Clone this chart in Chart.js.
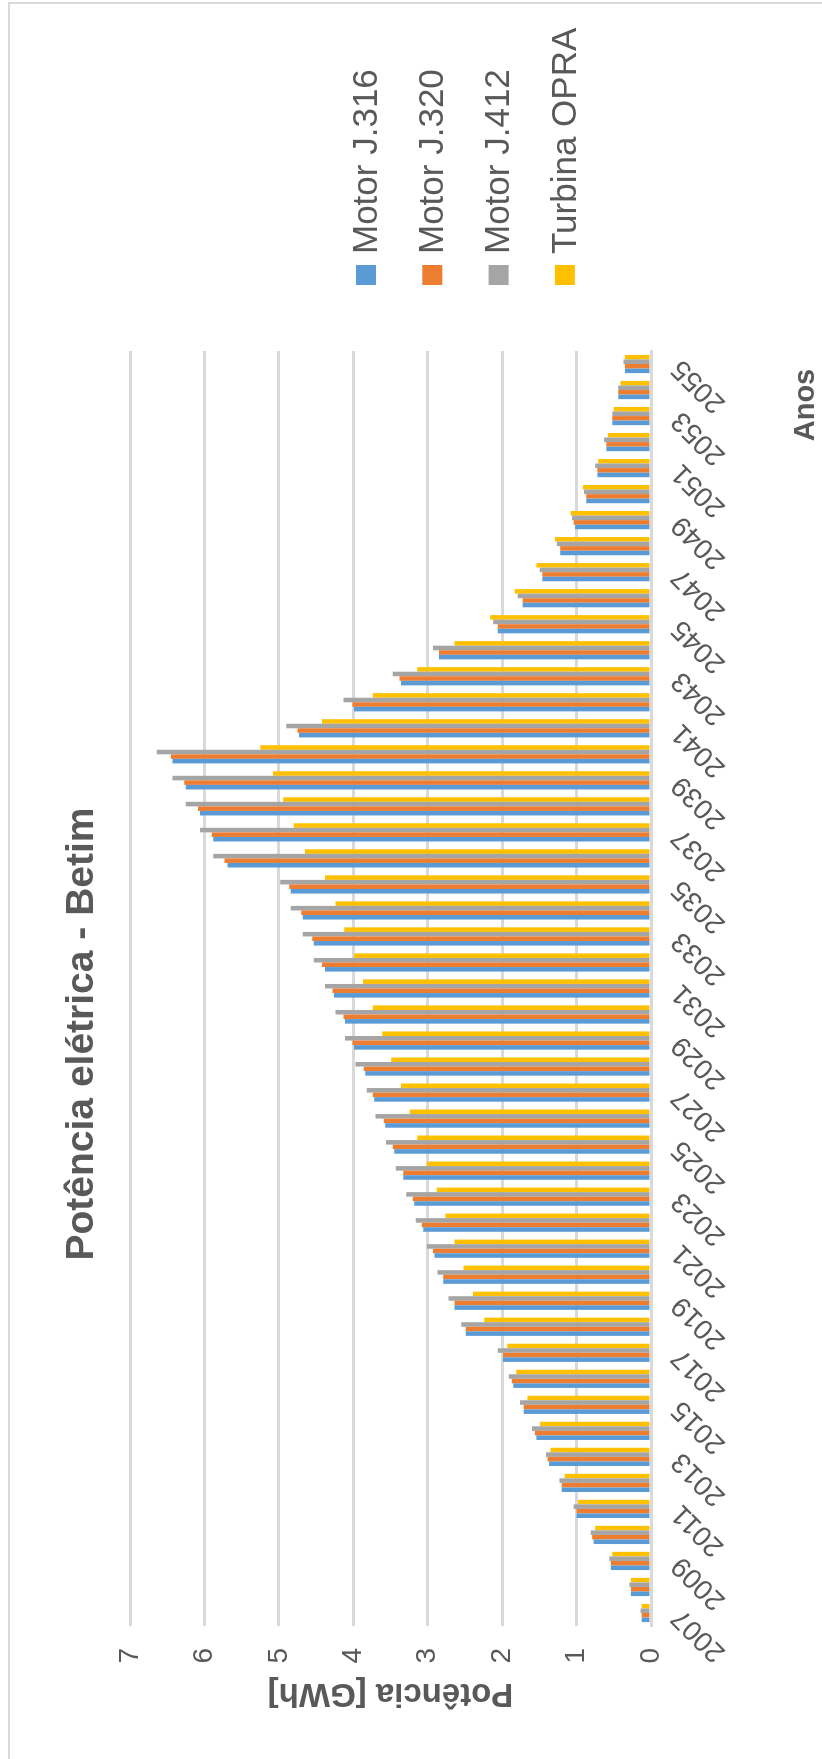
<!DOCTYPE html>
<html>
<head>
<meta charset="utf-8">
<script src="https://cdn.jsdelivr.net/npm/chart.js@4/dist/chart.umd.min.js"></script>
<style>
  html, body { margin: 0; padding: 0; background: #ffffff; }
  body { width: 822px; height: 1759px; overflow: hidden; position: relative; }
  /* the chart is laid out landscape and turned a quarter turn counter-clockwise */
  #wrap {
    position: absolute; left: 0; top: 0;
    width: 1759px; height: 822px;
    transform-origin: 0 0;
    transform: translateY(1759px) rotate(-90deg);
    background: #ffffff;
  }
</style>
</head>
<body>
<div id="wrap"><canvas id="c" width="1759" height="822"></canvas></div>
<script>
const years = [];
for (let y = 2007; y <= 2055; y++) years.push(String(y));

const seriesNames = ['Motor J.316', 'Motor J.320', 'Motor J.412', 'Turbina OPRA'];
const seriesColors = ['#5B9BD5', '#ED7D31', '#A5A5A5', '#FFC000'];

const motorJ316 = [
  0.125, 0.27, 0.54, 0.77, 1.00, 1.20, 1.37, 1.54, 1.71, 1.85,
  1.99, 2.49, 2.64, 2.79, 2.91, 3.06, 3.18, 3.33, 3.45, 3.57,
  3.72, 3.84, 3.99, 4.11, 4.26, 4.38, 4.53, 4.68, 4.84, 5.69,
  5.88, 6.06, 6.25, 6.43, 4.73, 3.99, 3.36, 2.85, 2.06, 1.725,
  1.46, 1.22, 1.02, 0.87, 0.72, 0.60, 0.52, 0.44, 0.35
];
const motorJ320 = [
  0.125, 0.27, 0.54, 0.79, 1.00, 1.20, 1.39, 1.56, 1.71, 1.87,
  1.99, 2.49, 2.64, 2.79, 2.93, 3.08, 3.20, 3.33, 3.47, 3.59,
  3.74, 3.86, 4.01, 4.13, 4.28, 4.42, 4.55, 4.70, 4.86, 5.73,
  5.90, 6.085, 6.27, 6.45, 4.75, 4.01, 3.38, 2.85, 2.06, 1.725,
  1.46, 1.22, 1.04, 0.87, 0.72, 0.60, 0.52, 0.44, 0.35
];
const motorJ412 = [
  0.14, 0.29, 0.56, 0.81, 1.04, 1.23, 1.41, 1.60, 1.76, 1.91,
  2.06, 2.55, 2.72, 2.87, 3.01, 3.16, 3.29, 3.43, 3.56, 3.70,
  3.82, 3.97, 4.11, 4.24, 4.38, 4.53, 4.68, 4.84, 4.98, 5.88,
  6.06, 6.25, 6.43, 6.64, 4.90, 4.13, 3.47, 2.93, 2.12, 1.79,
  1.495, 1.265, 1.06, 0.90, 0.75, 0.63, 0.52, 0.44, 0.37
];
const turbinaOPRA = [
  0.125, 0.27, 0.52, 0.75, 0.98, 1.16, 1.35, 1.49, 1.66, 1.81,
  1.93, 2.24, 2.39, 2.52, 2.64, 2.76, 2.88, 3.01, 3.14, 3.24,
  3.36, 3.49, 3.61, 3.74, 3.87, 3.99, 4.12, 4.24, 4.38, 4.65,
  4.80, 4.94, 5.08, 5.25, 4.42, 3.74, 3.14, 2.64, 2.16, 1.83,
  1.54, 1.29, 1.08, 0.915, 0.71, 0.58, 0.50, 0.41, 0.35
];
const seriesValues = [motorJ316, motorJ320, motorJ412, turbinaOPRA];

const valueTicks = [0, 1, 2, 3, 4, 5, 6, 7];
const chartTitle = 'Potência elétrica - Betim';
const valueAxisTitle = 'Potência [GWh]';
const categoryAxisTitle = 'Anos';

const FONT = "'Liberation Sans', Arial, sans-serif";
const TEXT = '#595959';
const GRID = '#D9D9D9';

// frame, heading, category-axis caption and legend drawn on the chart canvas
const decorations = {
  id: 'decorations',
  beforeDraw(chart) {
    const ctx = chart.ctx;
    ctx.save();
    ctx.strokeStyle = GRID;
    ctx.lineWidth = 2;
    ctx.beginPath();
    ctx.moveTo(0, 9);
    ctx.lineTo(1756, 9);
    ctx.lineTo(1756, chart.height);
    ctx.stroke();
    ctx.restore();
  },
  afterDraw(chart) {
    const ctx = chart.ctx;
    ctx.save();
    ctx.fillStyle = TEXT;
    ctx.font = "bold 39px " + FONT;
    ctx.textAlign = 'center';
    ctx.textBaseline = 'middle';
    ctx.fillText(chartTitle, 725, 82);

    ctx.font = "bold 29px " + FONT;
    ctx.fillText(categoryAxisTitle, 1354, 806);

    ctx.font = "35px " + FONT;
    ctx.textAlign = 'left';
    chart.data.datasets.forEach((ds, i) => {
      const cy = 366 + i * 66.3;
      ctx.fillStyle = ds.backgroundColor;
      ctx.fillRect(1474, cy - 10, 20, 20);
      ctx.fillStyle = TEXT;
      ctx.fillText(ds.label, 1505, cy + 1);
    });
    ctx.restore();
  }
};

new Chart(document.getElementById('c'), {
  type: 'bar',
  data: {
    labels: years,
    datasets: seriesNames.map((name, i) => ({
      label: name,
      data: seriesValues[i],
      backgroundColor: seriesColors[i],
      borderWidth: 0,
      categoryPercentage: 0.7,
      barPercentage: 1.0
    }))
  },
  options: {
    responsive: false,
    animation: false,
    devicePixelRatio: 1,
    layout: { padding: { top: 130, right: 351, left: 0, bottom: 0 } },
    plugins: {
      legend: { display: false },
      title: { display: false },
      tooltip: { enabled: false }
    },
    scales: {
      x: {
        grid: { display: false, drawTicks: false },
        border: { display: true, color: GRID, width: 3 },
        ticks: {
          autoSkip: false,
          minRotation: 45,
          maxRotation: 45,
          padding: 14,
          color: TEXT,
          font: { family: FONT, size: 28 },
          callback(value, index) { return index % 2 === 0 ? years[index] : ''; }
        },
        afterFit(scale) { scale.height = 171; }
      },
      y: {
        min: 0,
        max: 7,
        afterBuildTicks(scale) { scale.ticks = valueTicks.map(v => ({ value: v })); },
        grid: { color: GRID, lineWidth: 3, drawTicks: false },
        border: { display: false },
        ticks: {
          padding: 22,
          color: TEXT,
          font: { family: FONT, size: 28 }
        },
        title: {
          display: true,
          text: valueAxisTitle,
          color: TEXT,
          font: { family: FONT, size: 33, weight: 'bold', lineHeight: 1.2 },
          padding: { top: 46, bottom: 0 }
        },
        afterFit(scale) { scale.width = 133; }
      }
    }
  },
  plugins: [decorations]
});
</script>
</body>
</html>
